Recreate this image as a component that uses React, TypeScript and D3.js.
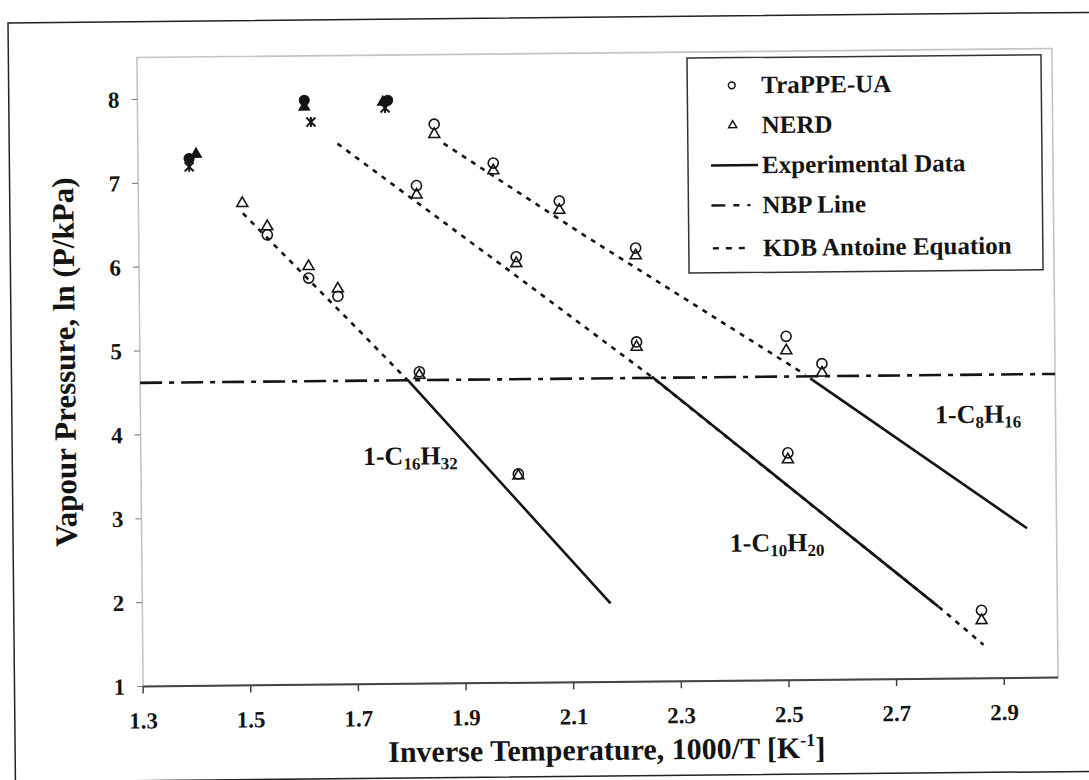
import React from "react";
import * as d3 from "d3";

// axis ticks
const xTicks = [1.3, 1.5, 1.7, 1.9, 2.1, 2.3, 2.5, 2.7, 2.9];
const yTicks = [1, 2, 3, 4, 5, 6, 7, 8];

// simulation points [1000/T, ln P]
const trappeC16 = [[1.539, 6.37], [1.615, 5.85], [1.669, 5.63], [1.819, 4.72], [2.001, 3.49]];
const nerdC16 = [[1.493, 6.75], [1.539, 6.47], [1.615, 5.99], [1.669, 5.72], [1.819, 4.68], [2.001, 3.47]];
const trappeC10 = [[1.817, 6.94], [2.001, 6.08], [2.223, 5.05], [2.502, 3.71], [2.859, 1.81]];
const nerdC10 = [[1.817, 6.83], [2.001, 6.0], [2.223, 4.99], [2.502, 3.63], [2.859, 1.69]];
const trappeC8 = [[1.851, 7.67], [1.96, 7.2], [2.082, 6.74], [2.223, 6.17], [2.501, 5.1], [2.567, 4.77]];
const nerdC8 = [[1.851, 7.55], [1.96, 7.11], [2.082, 6.63], [2.223, 6.08], [2.501, 4.93], [2.567, 4.66]];

// critical points (filled markers, not in legend)
const trappeCrit = [[1.395, 7.29], [1.61, 7.97], [1.765, 7.96]];
const nerdCrit = [[1.408, 7.34], [1.61, 7.89], [1.756, 7.94]];
const exptCrit = [[1.395, 7.19], [1.622, 7.71], [1.76, 7.87]];

// experimental data lines
const exptC16 = [[1.797, 4.624], [2.17, 1.937]];
const exptC10 = [[2.251, 4.634], [2.779, 1.859]];
const exptC8 = [[2.545, 4.596], [2.945, 2.783]];

// KDB Antoine equation
const kdbC16 = [[1.494, 6.63], [1.712, 5.19], [1.797, 4.62]];
const kdbC10 = [[1.671, 7.45], [1.995, 5.88], [2.251, 4.63], [2.779, 1.86], [2.862, 1.4]];
const kdbC8 = [[1.868, 7.44], [2.12, 6.36], [2.536, 4.64]];

// normal boiling point, ln(101.325)
const nbpLine = [[1.3, 4.62], [3.0, 4.62]];

const legendItems = ["TraPPE-UA", "NERD", "Experimental Data", "NBP Line", "KDB Antoine Equation"];

const FONT = "'Liberation Serif', 'Times New Roman', serif";
const INK = "#141414";
const NBP_DASH = "22,7,5,7";
const KDB_DASH = "5,6";

function Chem(props) {
  const { x, y, c, h } = props;
  return (
    <text x={x} y={y} fontFamily={FONT} fontWeight="bold" fontSize={26} fill={INK}>
      1-C
      <tspan fontSize={17} dy={5}>{c}</tspan>
      <tspan dy={-5}>H</tspan>
      <tspan fontSize={17} dy={5}>{h}</tspan>
    </text>
  );
}

export default function App() {
  const x = d3.scaleLinear().domain([1.3, 3.0]).range([140, 1055]);
  const y = d3.scaleLinear().domain([1, 8.5]).range([682, 53]);
  const line = d3.line().x((d) => x(d[0])).y((d) => y(d[1]));

  const circlePath = d3.symbol().type(d3.symbolCircle).size(80)();
  const triPath = d3.symbol().type(d3.symbolTriangle).size(52)();
  const smallCircle = d3.symbol().type(d3.symbolCircle).size(36)();
  const smallTri = d3.symbol().type(d3.symbolTriangle).size(28)();
  const starPath = "M-4.5,-4.5L4.5,4.5M-4.5,4.5L4.5,-4.5M0,-5L0,5";

  const marks = (data, path, filled, key) =>
    data.map((d, i) => (
      <path
        key={key + i}
        d={path}
        transform={`translate(${x(d[0])},${y(d[1])})`}
        fill={filled ? INK : "none"}
        stroke={INK}
        strokeWidth={filled ? 1 : 1.6}
      />
    ));

  const legendRows = [86.6, 126.6, 166.6, 206.6, 249.5];

  return (
    <svg width={1089} height={780} style={{ position: "absolute", left: 0, top: 0, background: "#fff" }}>
      <g transform="rotate(-0.56, 597.5, 367.5)">
        {/* outer chart border */}
        <rect x={11.4} y={17.2} width={1100} height={759} fill="none" stroke="#222" strokeWidth={1.5} />

        {/* plot area */}
        <rect x={140} y={53} width={915} height={629} fill="#fff" stroke="#c4c4c4" strokeWidth={1.6} />

        {/* y axis ticks */}
        {yTicks.map((t) => (
          <g key={"yt" + t}>
            <line x1={134} x2={140} y1={y(t)} y2={y(t)} stroke="#888" strokeWidth={1.2} />
            <text x={122} y={y(t)} dy="0.35em" textAnchor="end" fontFamily={FONT} fontWeight="bold" fontSize={23} fill={INK}>
              {t}
            </text>
          </g>
        ))}

        {/* x axis */}
        <line x1={140} x2={1055} y1={682} y2={682} stroke="#444" strokeWidth={2} />
        {xTicks.map((t) => (
          <g key={"xt" + t}>
            <line x1={x(t)} x2={x(t)} y1={682} y2={689} stroke="#444" strokeWidth={1.5} />
            <text x={x(t)} y={724} textAnchor="middle" fontFamily={FONT} fontWeight="bold" fontSize={23} fill={INK}>
              {t.toFixed(1)}
            </text>
          </g>
        ))}

        {/* axis titles */}
        <text x={603} y={760} textAnchor="middle" fontFamily={FONT} fontWeight="bold" fontSize={30} fill={INK}>
          Inverse Temperature, 1000/T [K
          <tspan fontSize={18} dy={-12}>-1</tspan>
          <tspan dy={12}>]</tspan>
        </text>
        <text
          transform="translate(75,357) rotate(-90)"
          textAnchor="middle"
          fontFamily={FONT}
          fontWeight="bold"
          fontSize={31}
          fill={INK}
        >
          Vapour Pressure, ln (P/kPa)
        </text>

        {/* NBP line */}
        <path d={line(nbpLine)} fill="none" stroke={INK} strokeWidth={2.6} strokeDasharray={NBP_DASH} />

        {/* KDB Antoine equation */}
        {[kdbC16, kdbC10, kdbC8].map((d, i) => (
          <path key={"kdb" + i} d={line(d)} fill="none" stroke={INK} strokeWidth={2.6} strokeDasharray={KDB_DASH} />
        ))}

        {/* experimental data */}
        {[exptC16, exptC10, exptC8].map((d, i) => (
          <path key={"exp" + i} d={line(d)} fill="none" stroke={INK} strokeWidth={2.6} />
        ))}

        {/* simulation points */}
        {marks(trappeC16, circlePath, false, "tc16")}
        {marks(nerdC16, triPath, false, "nc16")}
        {marks(trappeC10, circlePath, false, "tc10")}
        {marks(nerdC10, triPath, false, "nc10")}
        {marks(trappeC8, circlePath, false, "tc8")}
        {marks(nerdC8, triPath, false, "nc8")}

        {/* critical points */}
        {marks(trappeCrit, circlePath, true, "tcr")}
        {marks(nerdCrit, triPath, true, "ncr")}
        {exptCrit.map((d, i) => (
          <path key={"ecr" + i} d={starPath} transform={`translate(${x(d[0])},${y(d[1])})`} stroke={INK} strokeWidth={2} fill="none" />
        ))}

        {/* compound labels */}
        <Chem x={362} y={462.7} c="16" h="32" />
        <Chem x={728} y={553} c="10" h="20" />
        <Chem x={934.5} y={426.6} c="8" h="16" />

        {/* legend */}
        <rect x={690} y={59} width={354} height={215} fill="#fff" stroke="#333" strokeWidth={1.5} />
        <path d={smallCircle} transform={`translate(734.5,${legendRows[0]})`} fill="none" stroke={INK} strokeWidth={1.5} />
        <path d={smallTri} transform={`translate(735,${legendRows[1]})`} fill="none" stroke={INK} strokeWidth={1.5} />
        <line x1={713} x2={760} y1={legendRows[2]} y2={legendRows[2]} stroke={INK} strokeWidth={2.4} />
        <line x1={713} x2={762} y1={legendRows[3]} y2={legendRows[3]} stroke={INK} strokeWidth={2.4} strokeDasharray="14,8,6,8,3" />
        <line x1={714} x2={752} y1={legendRows[4]} y2={legendRows[4]} stroke={INK} strokeWidth={2.4} strokeDasharray="6,7" />
        {legendItems.map((t, i) => (
          <text key={t} x={764} y={legendRows[i]} dy="0.33em" fontFamily={FONT} fontWeight="bold" fontSize={25} fill={INK}>
            {t}
          </text>
        ))}
      </g>
    </svg>
  );
}
